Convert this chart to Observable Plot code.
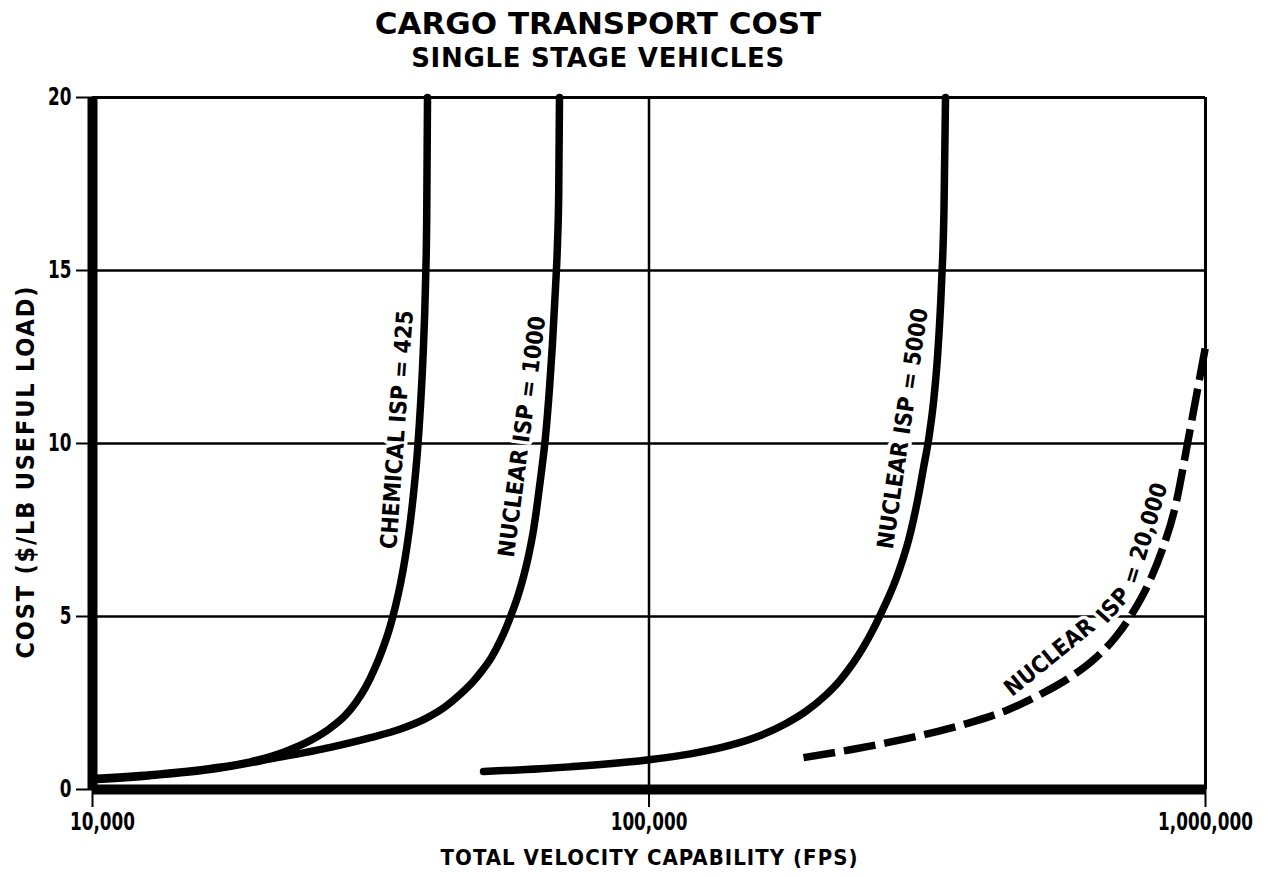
<!DOCTYPE html>
<html><head><meta charset="utf-8">
<script src="https://cdn.jsdelivr.net/npm/d3@7"></script>
<script src="https://cdn.jsdelivr.net/npm/@observablehq/plot@0.6"></script>
<style>
html,body{margin:0;padding:0;background:#fff;}
#wrap{position:relative;width:1273px;height:877px;overflow:hidden;}
.ttl{position:absolute;left:0;width:1196px;text-align:center;font-family:"DejaVu Sans",sans-serif;font-weight:bold;color:#000;white-space:nowrap;}
#t1{top:5px;font-size:31px;line-height:36px;}
#t2{top:43px;font-size:26px;line-height:30px;letter-spacing:0.7px;}
#chart{position:absolute;left:0;top:85px;}
</style></head>
<body>
<div id="wrap">
  <div class="ttl" id="t1"></div>
  <div class="ttl" id="t2"></div>
  <div id="chart"></div>
</div>
<script>
const titleText = "CARGO TRANSPORT COST";
const subtitleText = "SINGLE STAGE VEHICLES";
const xTitle = "TOTAL VELOCITY CAPABILITY (FPS)";
const yTitle = "COST ($/LB USEFUL LOAD)";

const xTicks = [10000, 100000, 1000000];
const yTicks = [0, 5, 10, 15, 20];
const gridCost = [5, 10, 15];

// Chemical Isp = 425
const chemicalVelocity = [10000, 12711, 16296, 19226, 22221, 24645, 26771, 28487, 29691, 30945, 32117, 33197, 34173, 35031, 35764, 36512, 37121, 37742, 38371, 38850, 39255, 39663, 39861, 39993];
const chemicalCost     = [0.32, 0.43, 0.61, 0.80, 1.10, 1.42, 1.78, 2.15, 2.5, 2.95, 3.48, 4.05, 4.65, 5.3, 5.95, 6.75, 7.55, 8.55, 9.8, 11.1, 12.5, 14.6, 16.5, 20];

// Nuclear Isp = 1000
const nuclear1000Velocity = [10000, 12711, 16636, 21149, 26771, 31590, 35764, 39663, 43087, 45839, 48174, 50213, 52117, 53872, 55455, 56849, 58277, 59496, 60738, 62009, 63044, 64096, 65166, 66252, 67079, 67918, 68482, 68824, 69051];
const nuclear1000Cost     = [0.28, 0.40, 0.60, 0.90, 1.22, 1.50, 1.75, 2.05, 2.40, 2.76, 3.10, 3.45, 3.82, 4.25, 4.70, 5.15, 5.65, 6.15, 6.75, 7.5, 8.3, 9.2, 10.2, 11.6, 12.9, 14.5, 15.8, 17.2, 20];

// Nuclear Isp = 5000
const nuclear5000Velocity = [50430, 63830, 81820, 100000, 118740, 140110, 158630, 175970, 191070, 207570, 220830, 232670, 242920, 252670, 261700, 270500, 278470, 285460, 292640, 298760, 305010, 311380, 317900, 324540, 329920, 335430, 338930, 341060];
const nuclear5000Cost     = [0.52, 0.60, 0.72, 0.86, 1.03, 1.28, 1.56, 1.90, 2.25, 2.72, 3.17, 3.65, 4.12, 4.62, 5.12, 5.62, 6.12, 6.62, 7.2, 7.8, 8.5, 9.3, 10.1, 11.2, 12.5, 14.6, 16.8, 20];

// Nuclear Isp = 20,000 (dashed)
const nuclear20000Velocity = [189500, 230170, 269390, 320510, 375100, 440760, 505240, 572020, 634370, 689090, 739300, 789900, 837010, 883260, 928220, 963450, 1000000];
const nuclear20000Cost     = [0.92, 1.15, 1.36, 1.63, 1.92, 2.3, 2.75, 3.25, 3.8, 4.4, 5.1, 5.95, 6.95, 8.2, 10.0, 11.4, 12.8];

// Curve labels
const labelText     = ["CHEMICAL ISP = 425", "NUCLEAR ISP = 1000", "NUCLEAR ISP = 5000", "NUCLEAR", "ISP", "= 20,000"];
const labelVelocity = [35300, 59200, 286000, 524500, 683600, 780000];
const labelCost     = [10.4, 10.2, 10.43, 3.82, 5.32, 7.4];
const labelAngle    = [-86, -82.5, -81.7, -39, -48, -73];

document.getElementById("t1").textContent = titleText;
document.getElementById("t2").textContent = subtitleText;

const solidRows = [
  ...chemicalVelocity.map((v, i) => ({s: "chem", v, c: chemicalCost[i]})),
  ...nuclear1000Velocity.map((v, i) => ({s: "n1000", v, c: nuclear1000Cost[i]})),
  ...nuclear5000Velocity.map((v, i) => ({s: "n5000", v, c: nuclear5000Cost[i]}))
];
const dashedRows = nuclear20000Velocity.map((v, i) => ({v, c: nuclear20000Cost[i]}));

const condFont = "'DejaVu Sans Condensed', 'DejaVu Sans', sans-serif";
const labelFont = "'DejaVu Sans', sans-serif";

const chart = Plot.plot({
  width: 1273,
  height: 792,
  marginTop: 12,
  marginRight: 68,
  marginBottom: 88,
  marginLeft: 92,
  style: {background: "white", color: "black", fontFamily: labelFont, overflow: "visible"},
  x: {type: "log", domain: [10000, 1000000]},
  y: {domain: [0, 20]},
  marks: [
    Plot.ruleY(gridCost, {stroke: "black", strokeWidth: 2.5}),
    Plot.ruleY([20], {stroke: "black", strokeWidth: 3}),
    Plot.ruleX([100000], {stroke: "black", strokeWidth: 2.5}),
    Plot.ruleX([1000000], {stroke: "black", strokeWidth: 3}),
    Plot.axisX({ticks: xTicks, tickFormat: d3.format(","), tickSize: 18, tickPadding: 5, fontSize: 24, fontWeight: "bold", fontFamily: condFont, label: null, strokeWidth: 2}),
    Plot.axisY({ticks: yTicks, tickSize: 16, tickPadding: 5, fontSize: 24, fontWeight: "bold", fontFamily: condFont, label: null, strokeWidth: 2}),
    Plot.text(labelText, {
      x: labelVelocity, y: labelCost, text: labelText, rotate: labelAngle,
      fontSize: 23, fontWeight: "bold", fontFamily: condFont, fill: "black",
      stroke: "white", strokeWidth: 7, paintOrder: "stroke", textAnchor: "middle", lineAnchor: "middle"
    }),
    Plot.line(solidRows, {x: "v", y: "c", z: "s", stroke: "black", strokeWidth: 7.5, curve: "monotone-x"}),
    Plot.line(dashedRows, {x: "v", y: "c", stroke: "black", strokeWidth: 7.5, strokeDasharray: "32,9", strokeLinecap: "butt", curve: "monotone-x"}),
    Plot.ruleX([10000], {stroke: "black", strokeWidth: 10}),
    Plot.ruleY([0], {stroke: "black", strokeWidth: 10}),
    Plot.text([yTitle], {frameAnchor: "left", dx: -67, dy: 29, rotate: -90, text: d => d, textAnchor: "middle", fontSize: 25, fontWeight: "bold", fontFamily: condFont, fill: "black", lineAnchor: "middle"}),
    Plot.text([xTitle], {frameAnchor: "bottom", dy: 68, text: d => d, textAnchor: "middle", fontSize: 22, fontWeight: "bold", fontFamily: condFont, fill: "black", lineAnchor: "middle"})
  ]
});
document.getElementById("chart").appendChild(chart);

// narrow the tick numerals to match the tall condensed lettering
const xTickTexts = chart.querySelectorAll('g[aria-label="x-axis tick label"] text');
chart.querySelectorAll('g[aria-label="x-axis tick label"] text, g[aria-label="y-axis tick label"] text').forEach(t => {
  const tr = t.getAttribute("transform") || "";
  t.setAttribute("transform", (tr + " scale(0.78,1)").trim());
});
// the first x label sits a little right of its tick in the original
if (xTickTexts.length) {
  const first = xTickTexts[0];
  first.setAttribute("transform", "translate(10,0) " + first.getAttribute("transform"));
}
// stretch the axis titles to the original lengths
chart.querySelectorAll("text").forEach(t => {
  if (t.textContent === yTitle) { t.setAttribute("textLength", 372); t.setAttribute("lengthAdjust", "spacing"); }
  if (t.textContent === xTitle) { t.setAttribute("textLength", 417); t.setAttribute("lengthAdjust", "spacing"); }
});
</script>
</body></html>
